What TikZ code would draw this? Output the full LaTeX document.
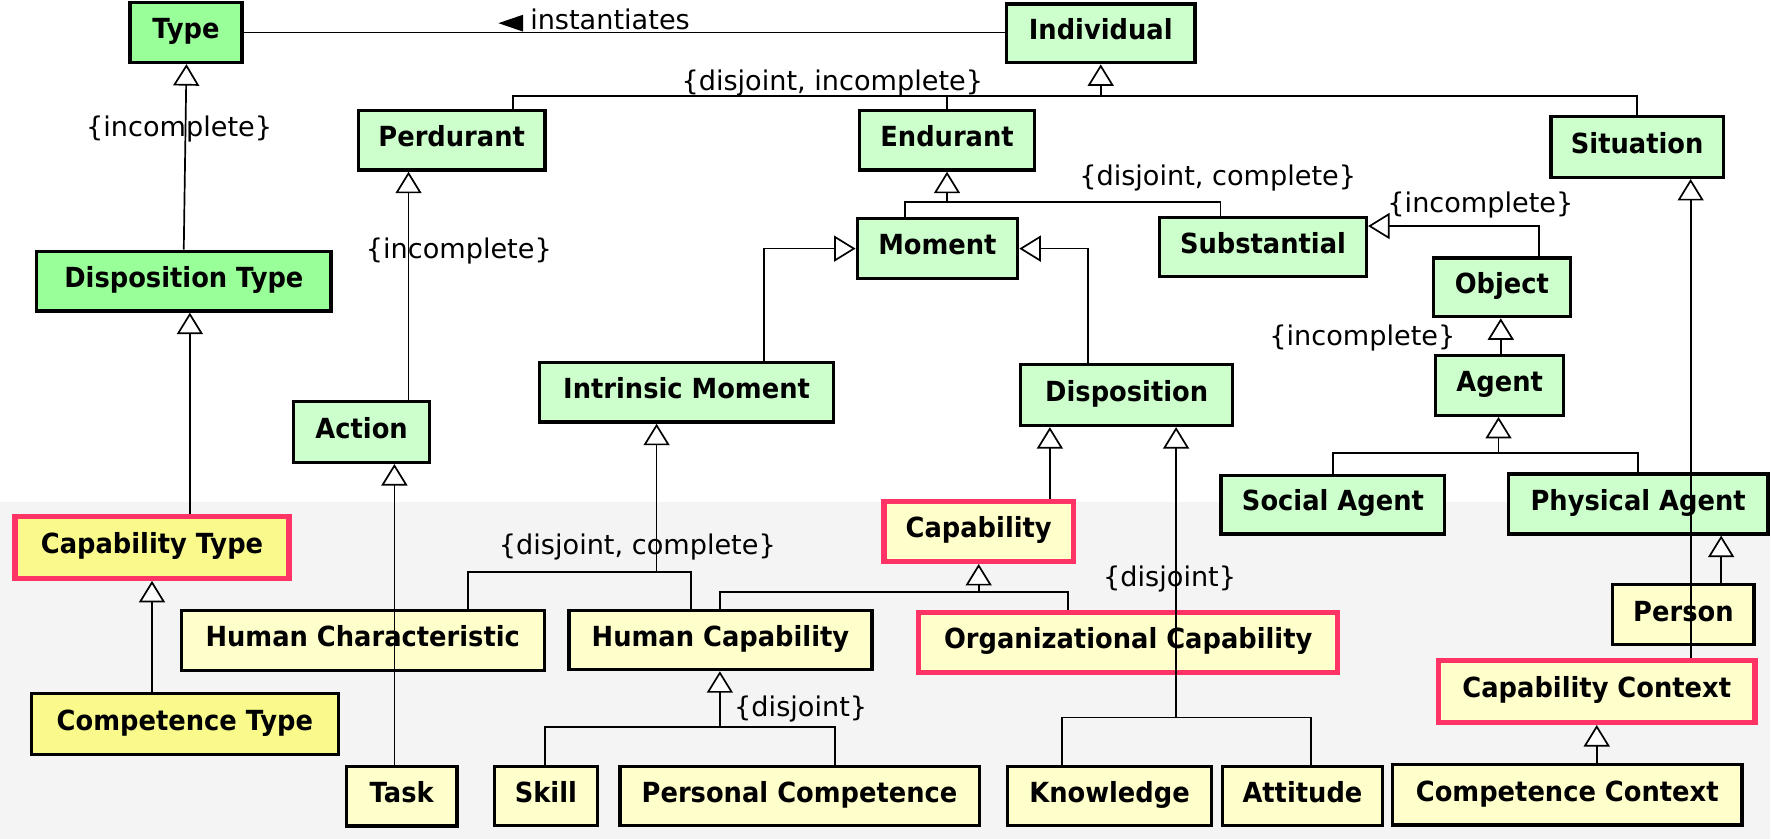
\documentclass[tikz,border=0pt]{standalone}
\usepackage{fontspec}
\setmainfont{DejaVu Sans}[BoldFeatures={FakeStretch=0.93}]
\usetikzlibrary{arrows.meta}
\definecolor{dgreen}{HTML}{99FF99}
\definecolor{lgreen}{HTML}{CCFFCC}
\definecolor{lyellow}{HTML}{FFFFCC}
\definecolor{dyellow}{HTML}{F9F98C}
\definecolor{capred}{HTML}{FF3366}
\definecolor{bggray}{HTML}{F4F4F4}
\tikzset{
  box/.style={draw=black, line width=2.9pt, inner sep=0pt, align=center,
    font=\fontsize{24.5}{29}\selectfont\bfseries, text height=18pt, text depth=7pt},
  dg/.style={box, fill=dgreen},
  lg/.style={box, fill=lgreen},
  ly/.style={box, fill=lyellow},
  dy/.style={box, fill=dyellow},
  capb/.style={draw=capred, line width=4.5pt},
  sz/.style 2 args={minimum width=#1, minimum height=#2},
  lab/.style={inner sep=0pt, font=\fontsize{24}{29}\selectfont, anchor=base},
  conn/.style={line width=1.5pt, line cap=butt},
  gen/.style={conn, -{Triangle[fill=white, length=19pt, width=23pt]}}
}
\begin{document}
\begin{tikzpicture}[x=1pt,y=-1pt]
\useasboundingbox (0,0) rectangle (1568,742.4);
\fill[bggray] (0,444) rectangle (1566,742.4);

% nodes
\node[dg, sz={99}{53}] (Type) at (164.6,28.8) {Type};
\node[lg, sz={167}{52}] (Individual) at (974,29.5) {Individual};
\node[lg, sz={165}{53}] (Perdurant) at (399.7,124) {Perdurant};
\node[lg, sz={155}{53}] (Endurant) at (838,124) {Endurant};
\node[lg, sz={152.6}{53.7}] (Situation) at (1448.7,130.1) {Situation};
\node[dg, sz={260.6}{52.8}] (DispType) at (162.7,248.8) {Disposition Type};
\node[lg, sz={142}{53}] (Moment) at (829.5,220) {Moment};
\node[lg, sz={183}{52}] (Substantial) at (1117.6,218.5) {Substantial};
\node[lg, sz={121}{52}] (Object) at (1329,254.2) {Object};
\node[lg, sz={260}{53}] (IntrinsicMoment) at (607.5,347) {Intrinsic Moment};
\node[lg, sz={187.5}{54}] (Disposition) at (997,349.5) {Disposition};
\node[lg, sz={113}{53}] (Agent) at (1327,341) {Agent};
\node[lg, sz={120}{53.7}] (Action) at (320,382.3) {Action};
\node[lg, sz={198}{52}] (SocialAgent) at (1179.5,446.5) {Social Agent};
\node[lg, sz={230}{53}] (PhysAgent) at (1449.5,446) {Physical Agent};
\node[dy, capb, sz={242.5}{54.5}] (CapType) at (134.5,484.5) {Capability Type};
\node[ly, capb, sz={167.5}{53}] (Capability) at (866,470.3) {Capability};
\node[ly, sz={321}{53}] (HumChar) at (321,567) {Human Characteristic};
\node[ly, sz={268}{52}] (HumCap) at (637.5,566.5) {Human Capability};
\node[ly, capb, sz={371}{52.5}] (OrgCap) at (998.3,568.5) {Organizational Capability};
\node[ly, sz={125}{53}] (Person) at (1489.6,544) {Person};
\node[ly, capb, sz={280}{55}] (CapContext) at (1412.9,611.8) {Capability Context};
\node[dy, sz={271.5}{54}] (CompType) at (163.6,640.5) {Competence Type};
\node[ly, sz={98}{52.6}] (Task) at (355.5,704.7) {Task};
\node[ly, sz={91}{51.7}] (Skill) at (483,704.3) {Skill};
\node[ly, sz={318}{51.7}] (PersComp) at (707.5,704.3) {Personal Competence};
\node[ly, sz={180.7}{51.7}] (Knowledge) at (981.8,704.3) {Knowledge};
\node[ly, sz={142}{51.7}] (Attitude) at (1152.5,704.3) {Attitude};
\node[ly, sz={309.5}{53.6}] (CompContext) at (1386.8,703.3) {Competence Context};

% instantiates association
\draw[conn] (Type.east) -- (Type.east -| Individual.west);
\fill (441,20.5) -- (463,13) -- (463,28) -- cycle;
\node[lab, anchor=base west] (inst) at (469,26) {instantiates};

% junction coordinates
\coordinate (jInd) at (974,85);
\coordinate (jEnd) at (838,179);
\coordinate (sEnd) at (1080,179);
\coordinate (jAg) at (1326,401);
\coordinate (jIM) at (581,506);
\coordinate (rIM) at (611.5,506);
\coordinate (jDis) at (1040.7,635);
\coordinate (rDis) at (1160,635);
\coordinate (jCap) at (866,524);
\coordinate (rCap) at (945,524);
\coordinate (jHC) at (637,643);
\coordinate (rHC) at (739,643);

% generalizations
\draw[conn] (Perdurant.north -| 454,0) |- (Situation.north |- jInd) -- (Situation.north);
\draw[conn] (Endurant.north) -- (Endurant.north |- jInd);
\draw[gen] (jInd) -- (Individual.south);

\draw[gen] (DispType.north -| 162.6,0) -- (Type.south -| 165,0);
\draw[gen] (Action.north -| 361.5,0) -- (Perdurant.south -| 361.5,0);

\draw[conn] (Moment.north -| 800.6,0) |- (sEnd) -- (Substantial.north -| sEnd);
\draw[gen] (jEnd) -- (Endurant.south);

\draw[gen] (IntrinsicMoment.north -| 676,0) |- (Moment.west);
\draw[gen] (Disposition.north -| 963,0) |- (Moment.east);

\draw[gen] (Object.north -| 1362,0) |- (Substantial.east |- 0,200);
\draw[gen] (Agent.north -| 1328,0) -- (Object.south -| 1328,0);

\draw[conn] (SocialAgent.north) |- (PhysAgent.north |- jAg) -- (PhysAgent.north);
\draw[gen] (jAg) -- (Agent.south -| jAg);

\draw[gen] (CapContext.north -| 1496,0) -- (Situation.south -| 1496,0);
\draw[gen] (Person.north -| 1523,0) -- (PhysAgent.south -| 1523,0);
\draw[gen] (CompContext.north -| CapContext.south) -- (CapContext.south);

\draw[gen] (CapType.north -| 168,0) -- (DispType.south -| 168,0);
\draw[gen] (CompType.north -| CapType.south) -- (CapType.south);
\draw[gen] (Task.north -| 349,0) -- (Action.south -| 349,0);

\draw[conn] (HumChar.north -| 414,0) |- (rIM) -- (HumCap.north -| rIM);
\draw[gen] (jIM) -- (IntrinsicMoment.south -| jIM);

\draw[gen] (Capability.north -| 929,0) -- (Disposition.south -| 929,0);
\draw[conn] (Knowledge.north -| 939.6,0) |- (rDis) -- (Attitude.north -| rDis);
\draw[gen] (jDis) -- (Disposition.south -| jDis);

\draw[conn] (HumCap.north -| 637,0) |- (rCap) -- (OrgCap.north -| rCap);
\draw[gen] (jCap) -- (Capability.south);

\draw[conn] (Skill.north -| 482,0) |- (rHC) -- (PersComp.north -| rHC);
\draw[gen] (jHC) -- (HumCap.south -| jHC);

% constraint labels
\node[lab] (l1) at (158.5,121) {\{incomplete\}};
\node[lab] (l2) at (736.5,80) {\{disjoint, incomplete\}};
\node[lab] (l3) at (406,228.6) {\{incomplete\}};
\node[lab] (l4) at (1077.5,163.7) {\{disjoint, complete\}};
\node[lab] (l5) at (1310,188) {\{incomplete\}};
\node[lab] (l6) at (1205.5,305.3) {\{incomplete\}};
\node[lab] (l7) at (564,491) {\{disjoint, complete\}};
\node[lab] (l8) at (1035,519) {\{disjoint\}};
\node[lab] (l9) at (708.5,633.6) {\{disjoint\}};
\end{tikzpicture}
\end{document}
